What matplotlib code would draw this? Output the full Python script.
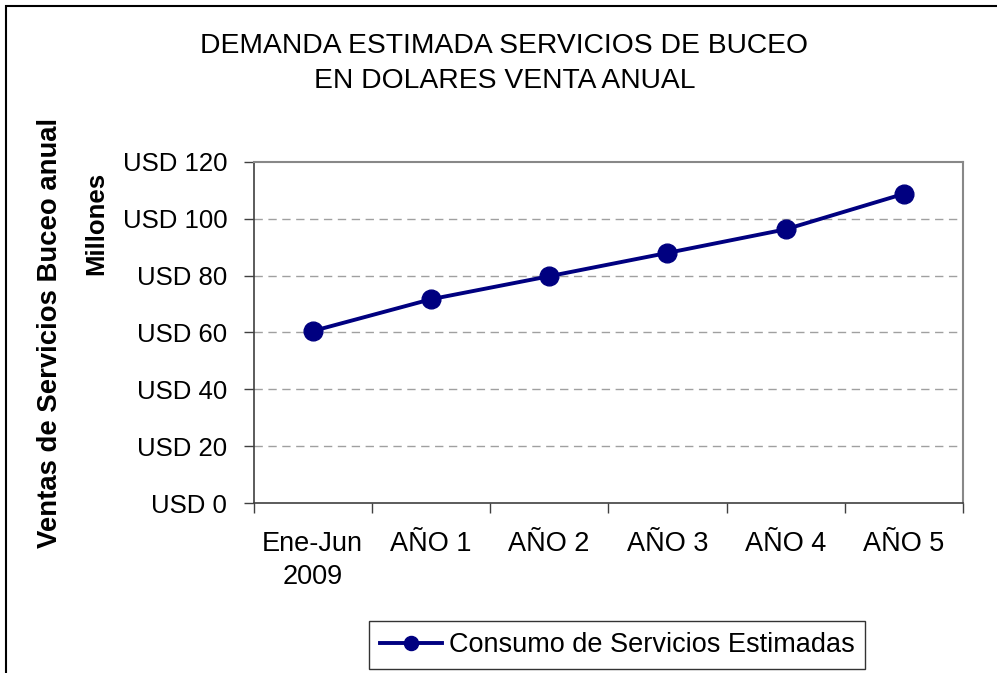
import matplotlib
matplotlib.use('Agg')
import matplotlib.pyplot as plt
from matplotlib.patches import Rectangle
from matplotlib.ticker import FixedLocator

plt.rcParams['font.family'] = ['Liberation Sans', 'DejaVu Sans']

# Datos del grafico
categorias = ['Ene-Jun\n2009', 'AÑO 1', 'AÑO 2', 'AÑO 3', 'AÑO 4', 'AÑO 5']
consumo = [60.5, 71.7, 79.8, 88.0, 96.3, 108.8]
yticks = [0, 20, 40, 60, 80, 100, 120]
serie = 'Consumo de Servicios Estimadas'

fig = plt.figure(figsize=(9.97, 6.73), dpi=100)
ax = fig.add_axes([0.2543, 0.2526, 0.7116, 0.5067])

x = list(range(len(categorias)))
ax.plot(x, consumo, color='#000080', linewidth=2.8, marker='o',
        markersize=13.5, label=serie)

ax.set_xlim(-0.5, len(categorias) - 0.5)
ax.set_ylim(0, 120)
ax.set_yticks(yticks)
ax.set_yticklabels([f'USD {v}' for v in yticks])
ax.set_xticks(x)
ax.set_xticklabels(categorias, linespacing=1.35)
ax.xaxis.set_minor_locator(FixedLocator([i + 0.5 for i in range(-1, len(categorias))]))

ax.tick_params(axis='x', which='major', length=0, pad=20, labelsize=19.5)
ax.tick_params(axis='x', which='minor', length=7, width=1, color='#404040', direction='out')
ax.tick_params(axis='y', length=7, width=1, color='#404040', direction='out', pad=12, labelsize=18.5)

for v in yticks[1:-1]:
    ax.axhline(v, color='#a0a0a0', linestyle=(0, (6, 4)), linewidth=1, zorder=0)

for s in ['top', 'right']:
    ax.spines[s].set_color('#888888')
    ax.spines[s].set_linewidth(1.5)
for s in ['left', 'bottom']:
    ax.spines[s].set_color('#404040')
    ax.spines[s].set_linewidth(1.2)

# titulo
fig.text(0.506, 0.931, 'DEMANDA ESTIMADA SERVICIOS DE BUCEO', ha='center', va='center', fontsize=20.3)
fig.text(0.506, 0.879, 'EN DOLARES VENTA ANUAL', ha='center', va='center', fontsize=20.3)

# etiquetas eje y
fig.text(0.050, 0.505, 'Ventas de Servicios Buceo anual', rotation=90, ha='center', va='center',
         fontsize=19.8, fontweight='bold')
fig.text(0.097, 0.668, 'Millones', rotation=90, ha='center', va='center',
         fontsize=18.5, fontweight='bold')

leg = ax.legend(loc='center', bbox_to_anchor=(0.619, 0.0416), bbox_transform=fig.transFigure,
                fontsize=19.5, frameon=True, fancybox=False, handlelength=2.3,
                borderpad=0.4, handletextpad=0.25, borderaxespad=0, markerscale=0.75)
leg.get_frame().set_edgecolor('black')
leg.get_frame().set_linewidth(1)

# borde exterior del grafico
fig.patches.append(Rectangle((6 / 997, -0.1), 1.1, 1.1 - 6 / 673, transform=fig.transFigure,
                             fill=False, edgecolor='black', linewidth=1.5))

fig.savefig('out.png', dpi=100)
